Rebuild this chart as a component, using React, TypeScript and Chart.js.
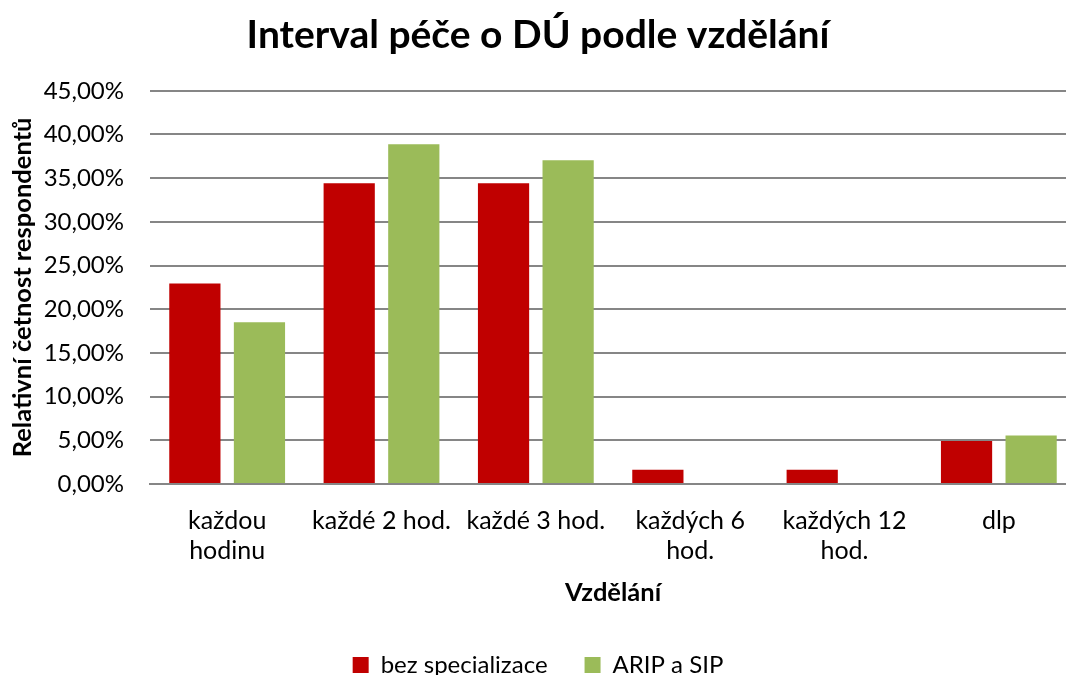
import React, { useEffect, useRef } from "react";
import { Chart, registerables } from "chart.js";

Chart.register(...registerables);

const categories: (string | string[])[] = [
  ["každou", "hodinu"],
  "každé 2 hod.",
  "každé 3 hod.",
  ["každých 6", "hod."],
  ["každých 12", "hod."],
  "dlp",
];
const bezSpecializace = [22.95, 34.43, 34.43, 1.64, 1.64, 4.92];
const aripSip = [18.52, 38.89, 37.04, 0, 0, 5.56];
const seriesNames = ["bez specializace", "ARIP a SIP"];
const yTicks = [0, 5, 10, 15, 20, 25, 30, 35, 40, 45];

const FONT = "Lato, 'Open Sans', sans-serif";

export default function App() {
  const ref = useRef<HTMLCanvasElement | null>(null);
  useEffect(() => {
    if (!ref.current) return;
    document.body.style.margin = "0";
    const chart = new Chart(ref.current, {
      type: "bar",
      data: {
        labels: categories,
        datasets: [
          {
            label: seriesNames[0],
            data: bezSpecializace,
            backgroundColor: "#C00000",
            categoryPercentage: 0.837,
            barPercentage: 0.793,
          },
          {
            label: seriesNames[1],
            data: aripSip,
            backgroundColor: "#9BBB59",
            categoryPercentage: 0.837,
            barPercentage: 0.793,
          },
        ],
      },
      options: {
        responsive: false,
        animation: false,
        layout: { padding: { left: 0, right: 4, top: 0, bottom: -12 } },
        plugins: {
          title: {
            display: true,
            text: "Interval péče o DÚ podle vzdělání",
            color: "#000",
            font: { family: FONT, size: 39, weight: "bold" },
            padding: { top: 12, bottom: 32 },
          },
          legend: {
            position: "bottom",
            labels: {
              color: "#000",
              font: { family: FONT, size: 24 },
              boxWidth: 16,
              boxHeight: 16,
              padding: 37,
            },
          },
          tooltip: { enabled: false },
        },
        scales: {
          x: {
            grid: { display: false },
            border: { display: true, color: "#868686", width: 2 },
            ticks: {
              color: "#000",
              font: { family: FONT, size: 25 },
              padding: 14,
              maxRotation: 0,
              autoSkip: false,
            },
            title: {
              display: true,
              text: "Vzdělání",
              color: "#000",
              font: { family: FONT, size: 25.5, weight: "bold" },
              padding: { top: 0, bottom: 8 },
            },
            afterFit: (s: any) => {
              s.height = 132;
            },
          },
          y: {
            min: 0,
            max: 45,
            afterBuildTicks: (s: any) => {
              s.ticks = yTicks.map((v) => ({ value: v }));
            },
            grid: { color: "#868686", lineWidth: 2, drawTicks: false },
            border: { display: false },
            ticks: {
              color: "#000",
              font: { family: FONT, size: 24 },
              padding: 26,
              callback: (v: any) => Number(v).toFixed(2).replace(".", ",") + "%",
            },
            title: {
              display: true,
              text: "Relativní četnost respondentů",
              color: "#000",
              font: { family: FONT, size: 25.5, weight: "bold" },
              padding: { top: 7, bottom: 4 },
            },
            afterFit: (s: any) => {
              s.width = 150;
            },
          },
        },
      },
    });
    return () => chart.destroy();
  }, []);
  return (
    <div style={{ width: 1066, height: 675, overflow: "hidden", position: "relative", background: "#fff" }}>
      <canvas ref={ref} width={1080} height={675} style={{ display: "block" }} />
    </div>
  );
}
